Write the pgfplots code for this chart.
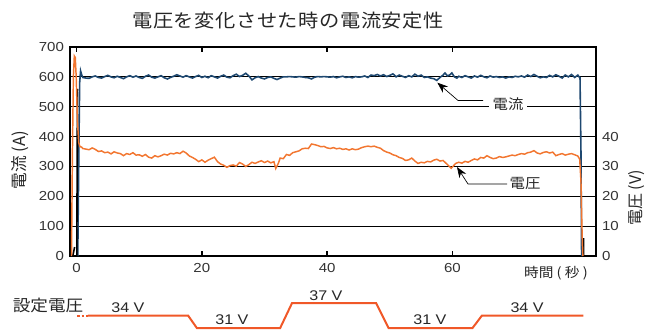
\documentclass[border=0pt]{standalone}
\usepackage{pgfplots}
\pgfplotsset{compat=1.18}
\usepackage{fontspec}
\usetikzlibrary{arrows.meta}
\setmainfont{Liberation Sans}[FakeStretch=1.15]
\newfontfamily\jp{Noto Sans CJK JP}[FakeStretch=1.1]
\newfontfamily\jpt{Noto Sans CJK JP}[FakeStretch=1.1, LetterSpace=3]
\newfontfamily\jpr{Noto Sans CJK JP}
\definecolor{cblue}{RGB}{30,72,112}
\definecolor{corange}{RGB}{242,118,48}
\definecolor{cstep}{RGB}{240,88,40}
\begin{document}
\begin{tikzpicture}
\useasboundingbox (0,0) rectangle (492pt,246.75pt);
% ---------- current (left axis) ----------
\begin{axis}[
  at={(52.5pt,54.75pt)}, anchor=south west,
  scale only axis, width=394.5pt, height=156.75pt,
  xmin=-1.04, xmax=82.9, ymin=0, ymax=700,
  xtick={0,20,40,60}, ytick={0,100,...,700},
  ymajorgrids, grid style={black, line width=0.8pt},
  axis line style={black, line width=1.1pt},
  tick align=inside, major tick length=4pt,
  xtick style={black, line width=1.4pt},
  ytick style={draw=none},
  /pgf/number format/assume math mode=true,
  tick label style={font=\fontsize{9.8}{11}\selectfont, text=black!80},
  yticklabel style={xshift=-1pt},
  xticklabel style={yshift=-2pt},
  unbounded coords=jump,
]
\addplot[cblue, line width=1.2pt] coordinates {
(0.2,0)(0.35,300)(0.5,580)(0.65,620)(0.85,605)
(1.0,598)(1.5,596)(2.0,595)(2.5,600)(3.0,603)(3.5,598)(4.0,596)(4.5,601)(5.0,605)(5.5,600)
(6.0,597)(6.5,602)(7.0,598)(7.5,594)(8.0,600)(8.5,604)(9.0,599)(9.5,603)(10.0,598)(10.5,595)
(11.0,602)(11.5,606)(12.0,599)(12.5,596)(13.0,600)(13.5,604)(14.0,597)(14.5,593)(15.0,598)(15.5,602)
(16.0,607)(16.5,603)(17.0,599)(17.5,604)(18.0,600)(18.5,596)(19.0,601)(19.5,605)(20.0,598)(20.5,602)
(21.0,597)(21.5,604)(22.0,600)(22.5,596)(23.0,602)(23.5,606)(24.0,599)(24.5,597)(25.0,604)(25.5,609)
(26.0,601)(26.5,605)(27.0,612)(27.5,603)(28.0,590)(28.5,597)(29.0,601)(29.5,596)(30.0,593)(30.5,598)
(31.0,600)(31.5,595)(32.0,591)(32.5,596)(33.0,600)(33.5,600)(34.0,601)(34.5,600)(35.0,599)(35.5,601)
(36.0,600)(36.5,598)(37.0,597)(37.5,593)(38.0,599)(38.5,601)(39.0,600)(39.5,601)(40.0,600)(40.5,599)
(41.0,601)(41.5,597)(42.0,600)(42.5,602)(43.0,598)(43.5,600)(44.0,597)(44.5,601)(45.0,599)(45.5,600)
(46.0,603)(46.5,598)(47.0,606)(47.5,604)(48.0,608)(48.5,603)(49.0,607)(49.5,601)(50.0,605)(50.5,610)
(51.0,600)(51.5,606)(52.0,602)(52.5,598)(53.0,604)(53.5,600)(54.0,609)(54.5,602)(55.0,606)(55.5,598)
(56.0,600)(56.5,596)(57.0,594)(57.5,588)(58.0,598)(58.5,606)(58.8,613)(59.2,603)(59.6,607)(59.9,613)
(60.3,600)(60.7,596)(61.0,602)(61.5,598)(62.0,604)(62.5,600)(63.0,596)(63.5,603)(64.0,599)(64.5,605)
(65.0,600)(65.5,597)(66.0,603)(66.5,599)(67.0,601)(67.5,598)(68.0,600)(68.5,596)(69.0,600)(69.5,598)
(70.0,602)(70.5,600)(71.0,603)(71.5,599)(72.0,606)(72.5,601)(73.0,608)(73.5,602)(74.0,597)(74.5,600)
(75.0,598)(75.5,605)(76.0,600)(76.5,607)(77.0,602)(77.5,596)(78.0,606)(78.5,600)(79.0,608)(79.5,598)
(80.0,606)(80.2,600)(80.35,598)(80.5,350)(80.6,0)
};
\addplot[black, line width=1.2pt] coordinates {
(-0.6,0)(-0.3,30)(-0.3,nan)(0.05,0)(0.1,300)(0.15,560)(0.15,nan)(80.9,0)(80.9,60)
};
\end{axis}
% ---------- voltage (right axis) ----------
\begin{axis}[
  at={(52.5pt,54.75pt)}, anchor=south west,
  scale only axis, width=394.5pt, height=156.75pt,
  xmin=-1.04, xmax=82.9, ymin=0, ymax=70,
  axis x line=none, axis y line*=right,
  axis line style={black, line width=1.1pt},
  ytick={0,10,20,30,40}, ytick style={draw=none},
  /pgf/number format/assume math mode=true,
  tick label style={font=\fontsize{9.8}{11}\selectfont, text=black!80},
  yticklabel style={xshift=1pt},
]
\addplot[corange, line width=1.1pt] coordinates {
(-0.8,0)(-0.65,35)(-0.5,60)(-0.35,67)(-0.2,66.5)(-0.05,60)(0.15,45)(0.35,38)(0.55,36.6)
(0.8,36.5)(1.0,36.0)(1.5,35.8)(2.0,35.6)(2.5,36.2)(3.0,35.7)(3.5,35.0)(4.0,35.2)(4.5,34.6)(5.0,34.8)
(5.5,34.2)(6.0,34.9)(6.5,34.5)(7.0,34.3)(7.5,33.6)(8.0,34.3)(8.5,34.0)(9.0,34.6)(9.5,33.8)(10.0,33.9)
(10.5,33.4)(11.0,34.0)(11.5,33.1)(12.0,32.8)(12.5,33.6)(13.0,33.2)(13.5,33.6)(14.0,34.1)(14.5,33.8)(15.0,34.4)
(15.5,34.2)(16.0,34.6)(16.5,34.3)(17.0,35.1)(17.5,34.5)(18.0,33.5)(18.5,33.0)(19.0,32.4)(19.5,31.6)(20.0,32.2)
(20.5,31.4)(21.0,32.1)(21.5,32.6)(22.0,33.1)(22.5,31.6)(23.0,30.8)(23.5,30.4)(24.0,29.7)(24.5,30.3)(25.0,30.5)
(25.5,30.1)(26.0,31.3)(26.5,30.8)(27.0,30.0)(27.5,30.6)(28.0,31.4)(28.5,31.0)(29.0,31.5)(29.5,31.9)(30.0,31.3)
(30.5,31.8)(31.0,31.2)(31.5,31.6)(31.8,29.3)(32.2,31.0)(32.5,32.8)(33.0,32.6)(33.5,34.0)(34.0,33.7)(34.5,34.6)
(35.0,34.9)(35.5,35.2)(36.0,35.9)(36.5,36.1)(37.0,36.0)(37.5,37.5)(38.0,37.3)(38.5,37.0)(39.0,36.6)(39.5,36.7)
(40.0,36.2)(40.5,36.0)(41.0,36.3)(41.5,35.9)(42.0,36.1)(42.5,35.7)(43.0,35.9)(43.5,35.5)(44.0,35.9)(44.5,35.6)
(45.0,35.8)(45.5,36.3)(46.0,36.6)(46.5,36.8)(47.0,36.6)(47.5,36.8)(48.0,36.4)(48.5,36.1)(49.0,35.3)(49.5,34.8)
(50.0,34.5)(50.5,33.9)(51.0,33.6)(51.5,33.0)(52.0,32.7)(52.5,32.0)(53.0,32.2)(53.5,32.8)(54.0,31.8)(54.5,31.0)
(55.0,31.4)(55.5,31.2)(56.0,31.7)(56.5,31.5)(57.0,32.1)(57.5,32.4)(58.0,31.8)(58.5,32.0)(59.0,31.0)(59.5,30.0)
(59.8,29.4)(60.2,30.3)(60.5,31.0)(61.0,31.4)(61.5,31.1)(62.0,31.7)(62.5,31.4)(63.0,32.0)(63.5,32.5)(64.0,32.2)
(64.5,33.0)(65.0,32.8)(65.5,33.6)(66.0,33.0)(66.5,32.6)(67.0,32.8)(67.5,33.3)(68.0,33.0)(68.5,33.2)(69.0,33.5)
(69.5,33.8)(70.0,33.6)(70.5,34.0)(71.0,34.3)(71.5,34.1)(72.0,34.6)(72.5,34.8)(73.0,35.3)(73.5,34.5)(74.0,34.2)
(74.5,34.7)(75.0,34.9)(75.5,34.5)(76.0,34.8)(76.5,33.6)(77.0,34.0)(77.5,34.3)(78.0,33.8)(78.5,34.1)(79.0,34.3)
(79.5,33.9)(80.0,33.5)(80.3,32.4)(80.5,25.0)(80.6,15.0)(80.7,6.0)(80.8,0)
};
\end{axis}
% ---------- set voltage steps ----------
\begin{axis}[
  at={(52.5pt,0.75pt)}, anchor=south west,
  scale only axis, width=394.5pt, height=18.75pt,
  xmin=-1.04, xmax=82.9, ymin=31, ymax=37,
  hide axis, clip=false,
]
\addplot[cstep, line width=1.5pt, dash pattern=on 2pt off 1.5pt] coordinates {(0.08,34)(1.83,34)};
\addplot[cstep, line width=1.5pt] coordinates {
(1.83,34)(17.8,34)(19.2,31)(32.5,31)(34.4,37)(47.8,37)(49.8,31)(63.2,31)(64.7,34)(80.9,34)
};
\begin{scope}[every node/.style={font=\fontsize{10.5}{12}\selectfont, text=black!85}]
\node at (axis cs:8.2,35.8) {34 V};
\node at (axis cs:24.8,32.9) {31 V};
\node at (axis cs:39.8,38.7) {37 V};
\node at (axis cs:56.4,32.9) {31 V};
\node at (axis cs:71.9,35.8) {34 V};
\end{scope}
\end{axis}
% ---------- texts ----------
\node[font=\jpt\fontsize{13.8}{16}\selectfont, text=black!85] at (216pt,231pt) {電圧を変化させた時の電流安定性};
\node[font=\jpr\fontsize{12.5}{14}\selectfont, text=black!85, rotate=90] at (15pt,126.75pt) {電流 (A)};
\node[font=\jpr\fontsize{12}{14}\selectfont, text=black!85, rotate=90] at (477.75pt,98.25pt) {電圧 (V)};
\node[font=\jp\fontsize{10}{12}\selectfont, text=black!85] at (417pt,42pt) {時間 ( 秒 )};
\node[font=\jp\fontsize{12}{14}\selectfont, text=black!85] at (36pt,18pt) {設定電圧};
\draw[black, line width=0.5pt, -{Stealth[length=8pt,width=6pt]}] (362.25pt,171.4pt) -- (343.5pt,171.4pt) -- (328pt,184.75pt);
\node[font=\jp\fontsize{10.5}{12}\selectfont, text=black!85, fill=white, inner xsep=3pt, inner ysep=1pt] at (381pt,168.75pt) {電流};
\draw[black, line width=0.5pt, -{Stealth[length=8pt,width=6pt]}] (380.25pt,108.75pt) -- (351pt,108.75pt) -- (342.75pt,121.5pt);
\node[font=\jp\fontsize{10.5}{12}\selectfont, text=black!85] at (393.75pt,109.5pt) {電圧};
\end{tikzpicture}
\end{document}
